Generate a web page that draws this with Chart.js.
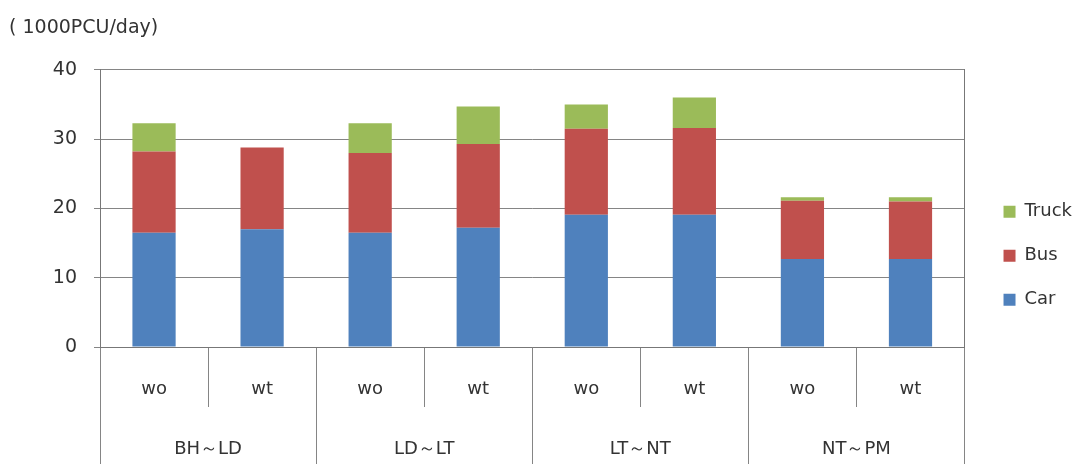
<!DOCTYPE html>
<html>
<head>
<meta charset="utf-8">
<script src="https://cdn.jsdelivr.net/npm/chart.js@4/dist/chart.umd.min.js"></script>
<style>
  html, body { margin: 0; padding: 0; background: #fff; }
  #wrap { width: 1083px; height: 464px; }
</style>
</head>
<body>
<div id="wrap"><canvas id="chart"></canvas></div>
<script>
// traffic volume per section, without (wo) / with (wt)
var subLabels = ['wo', 'wt', 'wo', 'wt', 'wo', 'wt', 'wo', 'wt'];
var groupLabels = ['BH\uFF5ELD', 'LD\uFF5ELT', 'LT\uFF5ENT', 'NT\uFF5EPM'];
var carValues   = [16.5, 17.0, 16.5, 17.2, 19.1, 19.1, 12.7, 12.7];
var busValues   = [11.7, 11.8, 11.5, 12.1, 12.4, 12.5, 8.4, 8.3];
var truckValues = [4.1, 0, 4.3, 5.4, 3.5, 4.4, 0.5, 0.6];
var yTicks = [0, 10, 20, 30, 40];

var fontFam = '"DejaVu Sans", sans-serif';
var txt = '#333333';
var gridCol = '#858585';

function mkSet(label, data, color) {
  return {
    label: label,
    data: data,
    backgroundColor: color,
    borderWidth: 0,
    barPercentage: 0.4,
    categoryPercentage: 1.0
  };
}

var ctx = document.getElementById('chart').getContext('2d');
new Chart(ctx, {
  type: 'bar',
  data: {
    labels: subLabels,
    datasets: [
      mkSet('Car', carValues, '#4F81BD'),
      mkSet('Bus', busValues, '#C0504D'),
      mkSet('Truck', truckValues, '#9BBB59')
    ]
  },
  options: {
    responsive: true,
    maintainAspectRatio: false,
    animation: false,
    layout: { padding: { left: 9, right: 1, top: 0, bottom: 0 } },
    plugins: {
      title: {
        display: true,
        text: '( 1000PCU/day)',
        align: 'start',
        color: txt,
        font: { family: fontFam, size: 19, weight: 'normal' },
        padding: { top: 17, bottom: 30 }
      },
      legend: {
        position: 'right',
        reverse: true,
        title: { display: true, text: ' ', font: { size: 18 }, padding: { top: 26, bottom: 0 } },
        labels: {
          boxWidth: 12,
          boxHeight: 12,
          padding: 26,
          color: txt,
          font: { family: fontFam, size: 18 }
        }
      },
      tooltip: { enabled: false }
    },
    scales: {
      x: {
        stacked: true,
        position: 'bottom',
        grid: { offset: true, drawOnChartArea: false, tickLength: 60, color: gridCol },
        border: { display: true, color: '#777' },
        ticks: { color: txt, padding: -28, font: { family: fontFam, size: 18 } },
        afterFit: function (s) { s.height = 60; }
      },
      x2: {
        type: 'category',
        labels: groupLabels,
        position: 'bottom',
        offset: true,
        grid: { offset: true, drawOnChartArea: false, tickLength: 57, color: gridCol },
        border: { display: false },
        ticks: { color: txt, padding: -25, font: { family: fontFam, size: 18 } },
        afterFit: function (s) { s.height = 57; }
      },
      y: {
        stacked: true,
        min: 0,
        max: 40,
        afterBuildTicks: function (s) { s.ticks = yTicks.map(function (v) { return { value: v }; }); },
        grid: { color: gridCol, tickLength: 6 },
        border: { display: true, color: '#777' },
        ticks: { color: txt, padding: 17, font: { family: fontFam, size: 19 } },
        afterFit: function (s) { s.width = 91; }
      },
      yR: {
        position: 'right',
        display: true,
        grid: { drawOnChartArea: false, drawTicks: false },
        border: { display: true, color: '#777' },
        ticks: { display: false },
        afterFit: function (s) { s.width = 13; }
      }
    }
  }
});
</script>
</body>
</html>
